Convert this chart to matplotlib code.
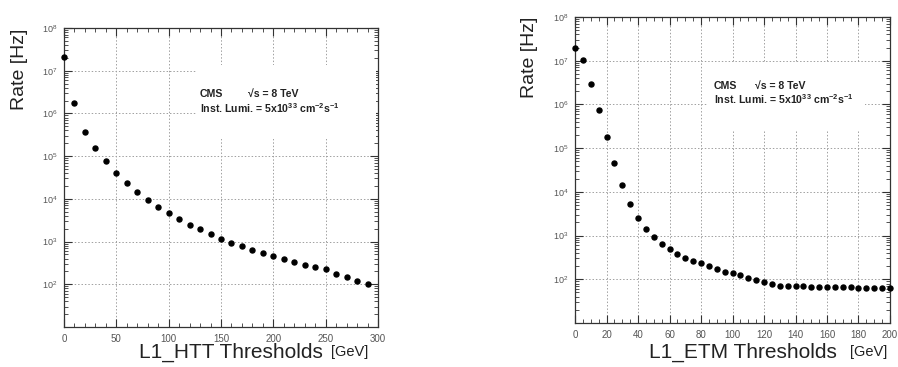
import numpy as np
import matplotlib
matplotlib.use("Agg")
import matplotlib.pyplot as plt
from matplotlib.ticker import MultipleLocator, LogLocator, NullFormatter, FixedLocator, FixedFormatter
from matplotlib.patches import Rectangle

plt.rcParams['font.family'] = ['Liberation Sans', 'DejaVu Sans']
plt.rcParams['mathtext.default'] = 'regular'

# ---- data: L1_HTT ----
htt_thr = [0, 10, 20, 30, 40, 50, 60, 70, 80, 90, 100, 110, 120, 130, 140, 150,
           160, 170, 180, 190, 200, 210, 220, 230, 240, 250, 260, 270, 280, 290]
htt_rate = [2.1e7, 1.75e6, 3.7e5, 1.56e5, 7.5e4, 4.1e4, 2.35e4, 1.43e4, 9.5e3, 6.5e3,
            4.7e3, 3.3e3, 2.5e3, 1.93e3, 1.5e3, 1.17e3, 9.3e2, 7.9e2, 6.5e2, 5.5e2,
            4.5e2, 3.9e2, 3.4e2, 2.9e2, 2.6e2, 2.3e2, 1.75e2, 1.45e2, 1.2e2, 1.0e2]

# ---- data: L1_ETM ----
etm_thr = [0, 5, 10, 15, 20, 25, 30, 35, 40, 45, 50, 55, 60, 65, 70, 75, 80, 85, 90, 95,
           100, 105, 110, 115, 120, 125, 130, 135, 140, 145, 150, 155, 160, 165, 170,
           175, 180, 185, 190, 195, 200]
etm_rate = [1.93e7, 1.05e7, 3.0e6, 7.3e5, 1.78e5, 4.5e4, 1.42e4, 5.3e3, 2.5e3, 1.42e3,
            9.3e2, 6.3e2, 4.9e2, 3.8e2, 3.1e2, 2.66e2, 2.35e2, 2.0e2, 1.74e2, 1.5e2,
            1.37e2, 1.23e2, 1.09e2, 9.8e1, 8.6e1, 7.8e1, 7.0e1, 70, 69, 69, 68, 68, 67,
            66, 65, 65, 63, 63, 63, 62, 62]

ytick_vals = [1e2, 1e3, 1e4, 1e5, 1e6, 1e7, 1e8]
ytick_labels = ['$10^{2}$', '$10^{3}$', '$10^{4}$', '$10^{5}$', '$10^{6}$', '$10^{7}$', '$10^{8}$']

W, H = 898, 367
fig = plt.figure(figsize=(W / 100, H / 100), dpi=100)

def px_axes(l, t, r, b):
    return fig.add_axes([l / W, 1 - b / H, (r - l) / W, (b - t) / H])

ax1 = px_axes(64, 28, 378, 327)
ax2 = px_axes(575, 17, 890, 323)

frame_col = '#333333'
grid_col = '#a0a0a0'
tick_col = '#555555'

def style(ax, xmax, xmajor, xminor, box):
    ax.set_yscale('log')
    ax.set_ylim(10, 1e8)
    ax.set_xlim(0, xmax)
    ax.xaxis.set_major_locator(MultipleLocator(xmajor))
    ax.xaxis.set_minor_locator(MultipleLocator(xminor))
    ax.yaxis.set_major_locator(FixedLocator(ytick_vals))
    ax.yaxis.set_major_formatter(FixedFormatter(ytick_labels))
    ax.yaxis.set_minor_locator(LogLocator(base=10, subs=np.arange(2, 10), numticks=20))
    ax.yaxis.set_minor_formatter(NullFormatter())
    for s in ax.spines.values():
        s.set_color(frame_col)
        s.set_linewidth(0.9)
    ax.tick_params(which='both', direction='in', top=True, right=True, color=frame_col,
                   labelcolor=tick_col)
    ax.tick_params(which='major', length=6, width=0.8)
    ax.tick_params(which='minor', length=3, width=0.6)
    ax.tick_params(axis='x', labelsize=7, pad=5)
    ax.tick_params(axis='y', labelsize=6.5, pad=5)
    ax.grid(True, which='major', linestyle=(0, (1.5, 2)), color=grid_col, linewidth=0.7, zorder=0)
    ax.set_axisbelow(True)
    # white box behind annotation text
    ax.add_patch(Rectangle((box[0], box[1]), box[2] - box[0], box[3] - box[1],
                           transform=ax.transAxes, facecolor='white', edgecolor='none',
                           zorder=1))

style(ax1, 300, 50, 10, (0.42, 0.628, 0.995, 0.875))
style(ax2, 200, 20, 5, (0.418, 0.627, 0.921, 0.85))

ax1.plot(htt_thr, htt_rate, 'o', color='black', markersize=3.6, zorder=3, clip_on=False)
ax2.plot(etm_thr, etm_rate, 'o', color='black', markersize=3.6, zorder=3, clip_on=False)

txt_kw = dict(fontsize=7.6, fontweight='bold', color='#222222', va='center', zorder=4)
ax1.text(0.433, 0.779, 'CMS', transform=ax1.transAxes, **txt_kw)
ax1.text(0.586, 0.779, '√s = 8 TeV', transform=ax1.transAxes, **txt_kw)
ax1.text(0.433, 0.732, 'Inst. Lumi. = 5x10$^{33}$ cm$^{-2}$s$^{-1}$', transform=ax1.transAxes, **txt_kw)

ax2.text(0.44, 0.775, 'CMS', transform=ax2.transAxes, **txt_kw)
ax2.text(0.572, 0.775, '√s = 8 TeV', transform=ax2.transAxes, **txt_kw)
ax2.text(0.44, 0.732, 'Inst. Lumi. = 5x10$^{33}$ cm$^{-2}$s$^{-1}$', transform=ax2.transAxes, **txt_kw)

lab_col = '#222222'
# y labels
fig.text(19 / W, 1 - 69 / H, 'Rate [Hz]', rotation=90, fontsize=14, color=lab_col,
         ha='center', va='center')
fig.text(529 / W, 1 - 57 / H, 'Rate [Hz]', rotation=90, fontsize=14, color=lab_col,
         ha='center', va='center')
# x labels
fig.text(231 / W, 1 - 352 / H, 'L1_HTT Thresholds', fontsize=15, color=lab_col,
         ha='center', va='center')
fig.text(350 / W, 1 - 352 / H, '[GeV]', fontsize=10.5, color=lab_col,
         ha='center', va='center')
fig.text(743 / W, 1 - 352 / H, 'L1_ETM Thresholds', fontsize=15, color=lab_col,
         ha='center', va='center')
fig.text(869 / W, 1 - 352 / H, '[GeV]', fontsize=10.5, color=lab_col,
         ha='center', va='center')

fig.savefig('out.png', dpi=100)
